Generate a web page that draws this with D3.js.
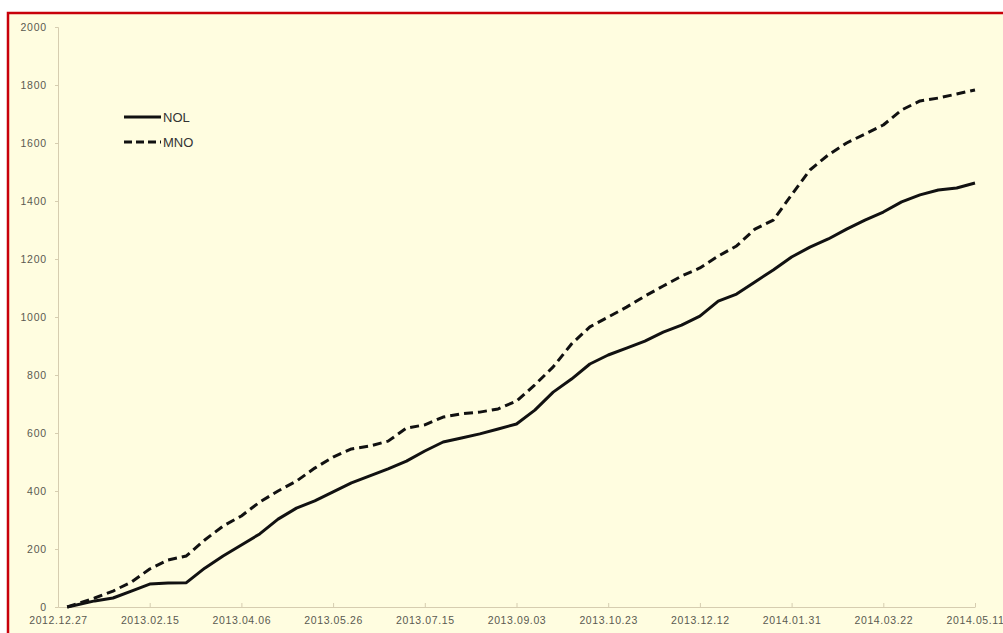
<!DOCTYPE html>
<html>
<head>
<meta charset="utf-8">
<script src="https://cdn.jsdelivr.net/npm/d3@7"></script>
<style>
  body { margin: 0; background: #ffffff; }
  svg { display: block; }
</style>
</head>
<body>
<script>
// Dates of the sampled points (every 10 days)
var dates = [
  "2013-01-01", "2013-01-06", "2013-01-16", "2013-01-26", "2013-02-05", "2013-02-15",
  "2013-02-25", "2013-03-07", "2013-03-17", "2013-03-27", "2013-04-06", "2013-04-16",
  "2013-04-26", "2013-05-06", "2013-05-16", "2013-05-26", "2013-06-05", "2013-06-15",
  "2013-06-25", "2013-07-05", "2013-07-15", "2013-07-25", "2013-08-04", "2013-08-14",
  "2013-08-24", "2013-09-03", "2013-09-13", "2013-09-23", "2013-10-03", "2013-10-13",
  "2013-10-23", "2013-11-02", "2013-11-12", "2013-11-22", "2013-12-02", "2013-12-12",
  "2013-12-22", "2014-01-01", "2014-01-11", "2014-01-21", "2014-01-31", "2014-02-10",
  "2014-02-20", "2014-03-02", "2014-03-12", "2014-03-22", "2014-04-01", "2014-04-11",
  "2014-04-21", "2014-05-01", "2014-05-11"
];

// NOL (solid line)
var nol = [
  0, 7, 21, 31, 55, 79,
  83, 84, 134, 176, 214, 252,
  303, 341, 366, 397, 428, 452,
  476, 503, 538, 569, 583, 597,
  614, 631, 679, 741, 786, 838,
  869, 893, 917, 948, 972, 1003,
  1055, 1079, 1121, 1162, 1207, 1241,
  1269, 1303, 1334, 1362, 1397, 1421,
  1438, 1445, 1462
];

// MNO (dashed line)
var mno = [
  0, 10, 31, 55, 86, 131,
  162, 176, 231, 279, 314, 362,
  400, 434, 479, 517, 545, 555,
  572, 617, 628, 655, 666, 672,
  683, 710, 766, 828, 907, 966,
  1000, 1034, 1072, 1107, 1141, 1169,
  1210, 1245, 1303, 1334, 1421, 1507,
  1559, 1600, 1631, 1662, 1714, 1745,
  1755, 1769, 1783
];

// Axis tick labels
var xTickLabels = ["2012.12.27", "2013.02.15", "2013.04.06", "2013.05.26", "2013.07.15", "2013.09.03",
                   "2013.10.23", "2013.12.12", "2014.01.31", "2014.03.22", "2014.05.11"];
var yTicks = [0, 200, 400, 600, 800, 1000, 1200, 1400, 1600, 1800, 2000];

var seriesNames = ["NOL", "MNO"];

var W = 1003, H = 633;
var margin = { top: 27, right: 28, bottom: 26, left: 58 },
    width = W - margin.left - margin.right,
    height = H - margin.top - margin.bottom;

var svg0 = d3.select("body").append("svg")
    .attr("width", W)
    .attr("height", H);

// chart background and red frame
svg0.append("rect")
    .attr("x", 8).attr("y", 13)
    .attr("width", W).attr("height", H)
    .attr("fill", "#fffde0")
    .attr("stroke", "#c8000a")
    .attr("stroke-width", 2.5);

var svg = svg0.append("g")
    .attr("transform", "translate(" + margin.left + "," + margin.top + ")");

var parseDash = d3.timeParse("%Y-%m-%d");
var parseDot = d3.timeParse("%Y.%m.%d");
var fmtDot = d3.timeFormat("%Y.%m.%d");

var data = dates.map(function (d, i) {
    return { date: parseDash(d), nol: nol[i], mno: mno[i] };
});

var xTicks = xTickLabels.map(parseDot);

var x = d3.scaleTime()
    .domain([xTicks[0], xTicks[xTicks.length - 1]])
    .range([0, width]);

var y = d3.scaleLinear()
    .domain([0, 2000])
    .range([height, 0]);

var axisColor = "#d6cdb0";
var labelColor = "#5a5a50";

// Y axis
var yAxis = svg.append("g")
    .call(d3.axisLeft(y).tickValues(yTicks).tickFormat(d3.format("d")).tickSize(3).tickPadding(8));
yAxis.select(".domain").attr("stroke", axisColor);
yAxis.selectAll(".tick line").attr("stroke", axisColor);
yAxis.selectAll(".tick text")
    .attr("fill", labelColor)
    .style("font-family", "'Liberation Sans', Arial, sans-serif")
    .style("font-size", "10.5px")
    .style("letter-spacing", "0.8px");

// X axis
var xAxis = svg.append("g")
    .attr("transform", "translate(0," + height + ")")
    .call(d3.axisBottom(x).tickValues(xTicks).tickFormat(fmtDot).tickSizeInner(-4).tickSizeOuter(0).tickPadding(10));
xAxis.select(".domain").attr("stroke", axisColor);
xAxis.selectAll(".tick line").attr("stroke", axisColor);
xAxis.selectAll(".tick text")
    .attr("fill", labelColor)
    .style("font-family", "'Liberation Sans', Arial, sans-serif")
    .style("font-size", "10.5px")
    .style("letter-spacing", "0.6px");

// Lines
var lineNol = d3.line()
    .x(function (d) { return x(d.date); })
    .y(function (d) { return y(d.nol); });

var lineMno = d3.line()
    .x(function (d) { return x(d.date); })
    .y(function (d) { return y(d.mno); });

svg.append("path")
    .datum(data)
    .attr("fill", "none")
    .attr("stroke", "#111111")
    .attr("stroke-width", 3)
    .attr("stroke-linejoin", "round")
    .attr("d", lineNol);

svg.append("path")
    .datum(data)
    .attr("fill", "none")
    .attr("stroke", "#111111")
    .attr("stroke-width", 3)
    .attr("stroke-dasharray", "9,5")
    .attr("stroke-linejoin", "round")
    .attr("d", lineMno);

// Legend
var legend = svg0.selectAll(".legend")
    .data(seriesNames)
    .enter().append("g")
    .attr("class", "legend")
    .attr("transform", function (d, i) { return "translate(124," + (117 + i * 25) + ")"; });

legend.append("line")
    .attr("x1", 0).attr("x2", 37)
    .attr("y1", 0).attr("y2", 0)
    .attr("stroke", "#111111")
    .attr("stroke-width", 3)
    .attr("stroke-dasharray", function (d, i) { return i === 1 ? "8,4" : null; });

legend.append("text")
    .attr("x", 39)
    .attr("y", 0)
    .attr("dy", "0.35em")
    .attr("fill", "#333333")
    .style("font-family", "'Liberation Sans', Arial, sans-serif")
    .style("font-size", "13px")
    .text(function (d) { return d; });
</script>
</body>
</html>
